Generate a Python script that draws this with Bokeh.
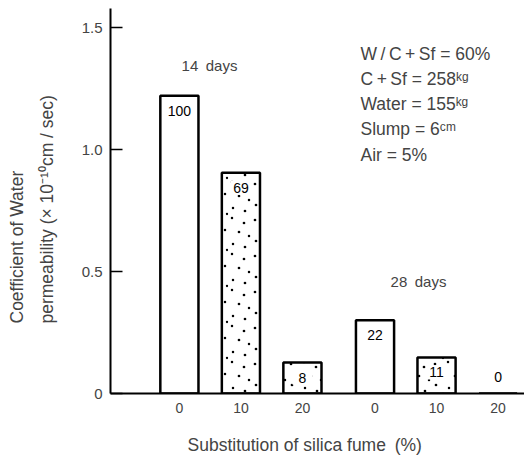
import math, base64
from bokeh.plotting import figure
from bokeh.models import Range1d, FixedTicker, Label, Title, ColumnDataSource, ImageURLTexture
from bokeh.core.properties import value
from bokeh.embed import file_html
from bokeh.resources import INLINE

# ---- data ----
ages = ["14 days", "14 days", "14 days", "28 days", "28 days", "28 days"]
fume = ["0", "10", "20", "0", "10", "20"]
permeability = [1.22, 0.905, 0.127, 0.30, 0.148, 0.0]
relative = ["100", "69", "8", "22", "11", "0"]
y_ticks = [0, 0.5, 1.0, 1.5]
y_tick_labels = ["0", "0.5", "1.0", "1.5"]
notes = ["W\u2009/\u2009C\u2009+\u2009Sf = 60%", "C\u2009+\u2009Sf = 258\u1d4f\u1da2", "Water = 155\u1d4f\u1da2",
         "Slump = 6\u1d9c\u1d50", "Air = 5%"]

FONT = "Liberation Sans"

# slot positions: index within series plus a gap between age groups
group_gap = 0.18
groups = list(dict.fromkeys(ages))
xpos = [i + groups.index(a) * group_gap for i, a in enumerate(ages)]

# frame geometry (px)
FL, FR, FT, FB = 110, 524, 8, 393
W, H = 524, 457
xr = (-1.12, 5.61)
yr = (0.0, 1.578)
py_unit = (yr[1] - yr[0]) / (FB - FT)   # data units per pixel (y)

def px2x(px):
    return xr[0] + (px - FL) / (FR - FL) * (xr[1] - xr[0])

def px2y(py):
    return yr[0] + (FB - py) * py_unit

# stipple texture tile (irregular dot screen)
tile = ('<svg xmlns="http://www.w3.org/2000/svg" width="36" height="36">'
        '<g fill="black">'
        '<circle cx="3" cy="4" r="1.35"/><circle cx="16" cy="2" r="1.25"/><circle cx="28" cy="7" r="1.35"/>'
        '<circle cx="9" cy="14" r="1.25"/><circle cx="23" cy="16" r="1.35"/><circle cx="33" cy="20" r="1.25"/>'
        '<circle cx="4" cy="25" r="1.35"/><circle cx="17" cy="28" r="1.25"/><circle cx="29" cy="31" r="1.35"/>'
        '<circle cx="11" cy="34" r="1.15"/>'
        '</g></svg>')
tile_url = "data:image/svg+xml;base64," + base64.b64encode(tile.encode()).decode()

p = figure(width=W, height=H, output_backend="svg", toolbar_location=None,
           x_range=Range1d(*xr), y_range=Range1d(*yr),
           min_border_left=FL, min_border_right=W - FR, min_border_top=FT, min_border_bottom=H - FB)
p.outline_line_color = None
p.xgrid.visible = False
p.ygrid.visible = False
p.background_fill_color = "white"
p.border_fill_color = "white"

stipple = ["" if f == "0" else "stipple" for f in fume]
src = ColumnDataSource(dict(x=xpos, top=permeability, hatch=stipple))
p.vbar(x="x", top="top", bottom=0, width=0.62, source=src, fill_color="white",
       line_color="black", line_width=2.5, hatch_pattern="hatch",
       hatch_extra={"stipple": ImageURLTexture(url=tile_url)})

# value labels: inside top of bar, or above baseline for empty bars
lab_y = [v - 15 * py_unit if v > 0.01 else v + 17 * py_unit for v in permeability]
lsrc = ColumnDataSource(dict(x=xpos, y=lab_y, lab=relative))
box_y = [y for y, s, v in zip(lab_y, stipple, permeability) if s and v > 0.01]
box_x = [x for x, s, v in zip(xpos, stipple, permeability) if s and v > 0.01]
p.rect(x=box_x, y=box_y, width=20, height=14, width_units="screen", height_units="screen",
       fill_color="white", line_color=None)
p.text(x="x", y="y", text="lab", source=lsrc, text_align="center", text_baseline="middle",
       text_font=value(FONT), text_font_size="14px", text_color="black")

# y axis
p.yaxis.ticker = FixedTicker(ticks=y_ticks)
p.yaxis.major_label_overrides = {t: l for t, l in zip(y_ticks, y_tick_labels)}
p.yaxis.minor_tick_line_color = None
p.yaxis.major_tick_in = 12
p.yaxis.major_tick_out = 0
p.yaxis.major_tick_line_width = 1.5
p.yaxis.axis_line_width = 2
p.yaxis.major_label_text_font = FONT
p.yaxis.major_label_text_font_size = "15px"
p.yaxis.major_label_standoff = 8

# x axis
p.xaxis.ticker = FixedTicker(ticks=xpos)
p.xaxis.major_label_overrides = {x: f for x, f in zip(xpos, fume)}
p.xaxis.major_tick_line_color = None
p.xaxis.minor_tick_line_color = None
p.xaxis.axis_line_width = 2
p.xaxis.major_label_text_font = FONT
p.xaxis.major_label_text_font_size = "14px"
p.xaxis.major_label_standoff = 3

# group captions
p.add_layout(Label(x=px2x(209), y=px2y(65), text=groups[0].replace(" ", "\u2002"), text_align="center",
                   text_baseline="middle", text_font=FONT, text_font_size="15px"))
p.add_layout(Label(x=px2x(418), y=px2y(281), text=groups[1].replace(" ", "\u2002"), text_align="center",
                   text_baseline="middle", text_font=FONT, text_font_size="15px"))

# mix notes
for i, n in enumerate(notes):
    p.add_layout(Label(x=px2x(360), y=px2y(53 + 25.3 * i), text=n, text_align="left",
                       text_baseline="middle", text_font=FONT, text_font_size="17.5px"))

def spacer(px):
    return Title(text="\u00a0", text_font_size="1px", standoff=px)

# axis titles as side titles (spacers control their distance from the axes)
p.add_layout(spacer(14), "below")
p.add_layout(Title(text="Substitution of silica fume\u2002(%)", align="left", offset=187 - FL,
                   text_font=FONT, text_font_size="17.5px", text_font_style="normal",
                   standoff=0), "below")
p.add_layout(spacer(19), "left")
p.add_layout(Title(text="permeability (\u00d7 10\u207b\u00b9\u2070cm / sec)", align="left",
                   offset=FB - 323, text_font=FONT, text_font_size="17.5px",
                   text_font_style="normal", standoff=0), "left")
p.add_layout(spacer(5), "left")
p.add_layout(Title(text="Coefficient of Water", align="left", offset=FB - 323,
                   text_font=FONT, text_font_size="17.5px", text_font_style="normal",
                   standoff=0), "left")

open("out.html", "w").write(file_html(p, INLINE))
